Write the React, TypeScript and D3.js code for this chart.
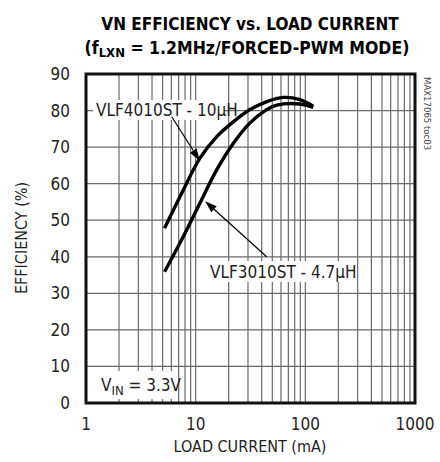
import * as d3 from "d3";

// load current (mA) / efficiency (%)
const vlf4010 = [
  [5.2, 47.8], [7.7, 58.2], [10.9, 66.9], [15.5, 72.8], [22, 76.9],
  [31, 80.2], [44, 82.4], [63, 83.6], [89, 83.0], [118, 81.2],
];
const vlf3010 = [
  [5.2, 35.9], [7.7, 45.5], [10.9, 54.6], [15.5, 63.7], [22, 71.0],
  [31, 76.5], [44, 80.2], [55, 81.5], [89, 81.8], [118, 80.9],
];
const xTickLabels = [1, 10, 100, 1000];
const yTickLabels = [0, 10, 20, 30, 40, 50, 60, 70, 80, 90];

const FONT = "'Liberation Sans Narrow', 'DejaVu Sans Condensed', 'Liberation Sans', sans-serif";

export default function App() {
  const W = 440, H = 462;
  const left = 86, right = 415, top = 74, bottom = 403;

  const x = d3.scaleLog().domain([1, 1000]).range([left, right]);
  const y = d3.scaleLinear().domain([0, 90]).range([bottom, top]);

  const minor: number[] = [];
  for (const dec of [1, 10, 100]) for (let k = 2; k <= 9; k++) minor.push(dec * k);
  minor.push(10, 100);

  const line = d3
    .line<number[]>()
    .x(d => x(d[0]))
    .y(d => y(d[1]))
    .curve(d3.curveCatmullRom.alpha(0.5));

  const arrow = (x1: number, y1: number, x2: number, y2: number) => {
    const ang = Math.atan2(y2 - y1, x2 - x1);
    const L = 12, Wd = 4;
    const bx = x2 - L * Math.cos(ang), by = y2 - L * Math.sin(ang);
    const px = -Math.sin(ang) * Wd, py = Math.cos(ang) * Wd;
    return (
      <g>
        <line x1={x1} y1={y1} x2={bx} y2={by} stroke="#000" strokeWidth={1.2} />
        <path d={`M${x2},${y2}L${bx + px},${by + py}L${bx - px},${by - py}Z`} fill="#000" />
      </g>
    );
  };

  return (
    <svg width={W} height={H} style={{ display: "block", position: "absolute", left: 0, top: 0 }} fontFamily={FONT}>
      <rect width={W} height={H} fill="#fff" />
      {/* title */}
      <text x={250} y={30} textAnchor="middle" fontWeight="bold" fontSize={17}>
        VN EFFICIENCY vs. LOAD CURRENT
      </text>
      <text x={247} y={54} textAnchor="middle" fontWeight="bold" fontSize={17.5}>
        (f<tspan fontSize={13} dy={3}>LXN</tspan><tspan dy={-3}> = 1.2MHz/FORCED-PWM MODE)</tspan>
      </text>

      {/* grid */}
      {yTickLabels.slice(1, -1).map(v => (
        <line key={"h" + v} x1={left} x2={right} y1={y(v)} y2={y(v)} stroke="#6a6a6a" strokeWidth={1.2} />
      ))}
      {minor.map((v, i) => (
        <line key={"v" + i} x1={x(v)} x2={x(v)} y1={top} y2={bottom} stroke="#6a6a6a" strokeWidth={1.2} />
      ))}

      {/* annotation boxes */}
      <rect x={93} y={100} width={131} height={20} fill="#fff" />
      <text x={96} y={116} fontSize={17} fill="#222">VLF4010ST - 10μH</text>
      <rect x={207} y={261} width={136} height={21} fill="#fff" />
      <text x={210} y={278} fontSize={17} fill="#222">VLF3010ST - 4.7μH</text>
      <rect x={97} y={371} width={76} height={28} fill="#fff" />
      <text x={101} y={391} fontSize={17} fill="#222">
        V<tspan fontSize={13} dy={4}>IN</tspan><tspan dy={-4}> = 3.3V</tspan>
      </text>

      {/* curves */}
      <path d={line(vlf4010) ?? ""} fill="none" stroke="#000" strokeWidth={3.4} strokeLinecap="butt" />
      <path d={line(vlf3010) ?? ""} fill="none" stroke="#000" strokeWidth={3.4} strokeLinecap="butt" />

      {/* arrows */}
      {arrow(x(6.04), y(78.3), x(10.9), y(66.3))}
      {arrow(x(44.4), y(40.0), x(12.2), y(55.2))}

      {/* frame */}
      <rect x={left} y={top} width={right - left} height={bottom - top} fill="none" stroke="#111" strokeWidth={3} />

      {/* tick labels */}
      {yTickLabels.map(v => (
        <text key={"yt" + v} x={70} y={y(v) + 6} textAnchor="end" fontSize={17} fill="#222">{v}</text>
      ))}
      {xTickLabels.map(v => (
        <text key={"xt" + v} x={x(v)} y={430} textAnchor="middle" fontSize={17} fill="#222">{v}</text>
      ))}

      {/* axis titles */}
      <text x={250} y={452} textAnchor="middle" fontSize={16} fill="#222">LOAD CURRENT (mA)</text>
      <text transform="translate(27,238) rotate(-90)" textAnchor="middle" fontSize={16} fill="#222">EFFICIENCY (%)</text>

      {/* side id */}
      <text transform="translate(424,77) rotate(90)" fontSize={9.5} fill="#444">MAX17065 toc03</text>
    </svg>
  );
}
